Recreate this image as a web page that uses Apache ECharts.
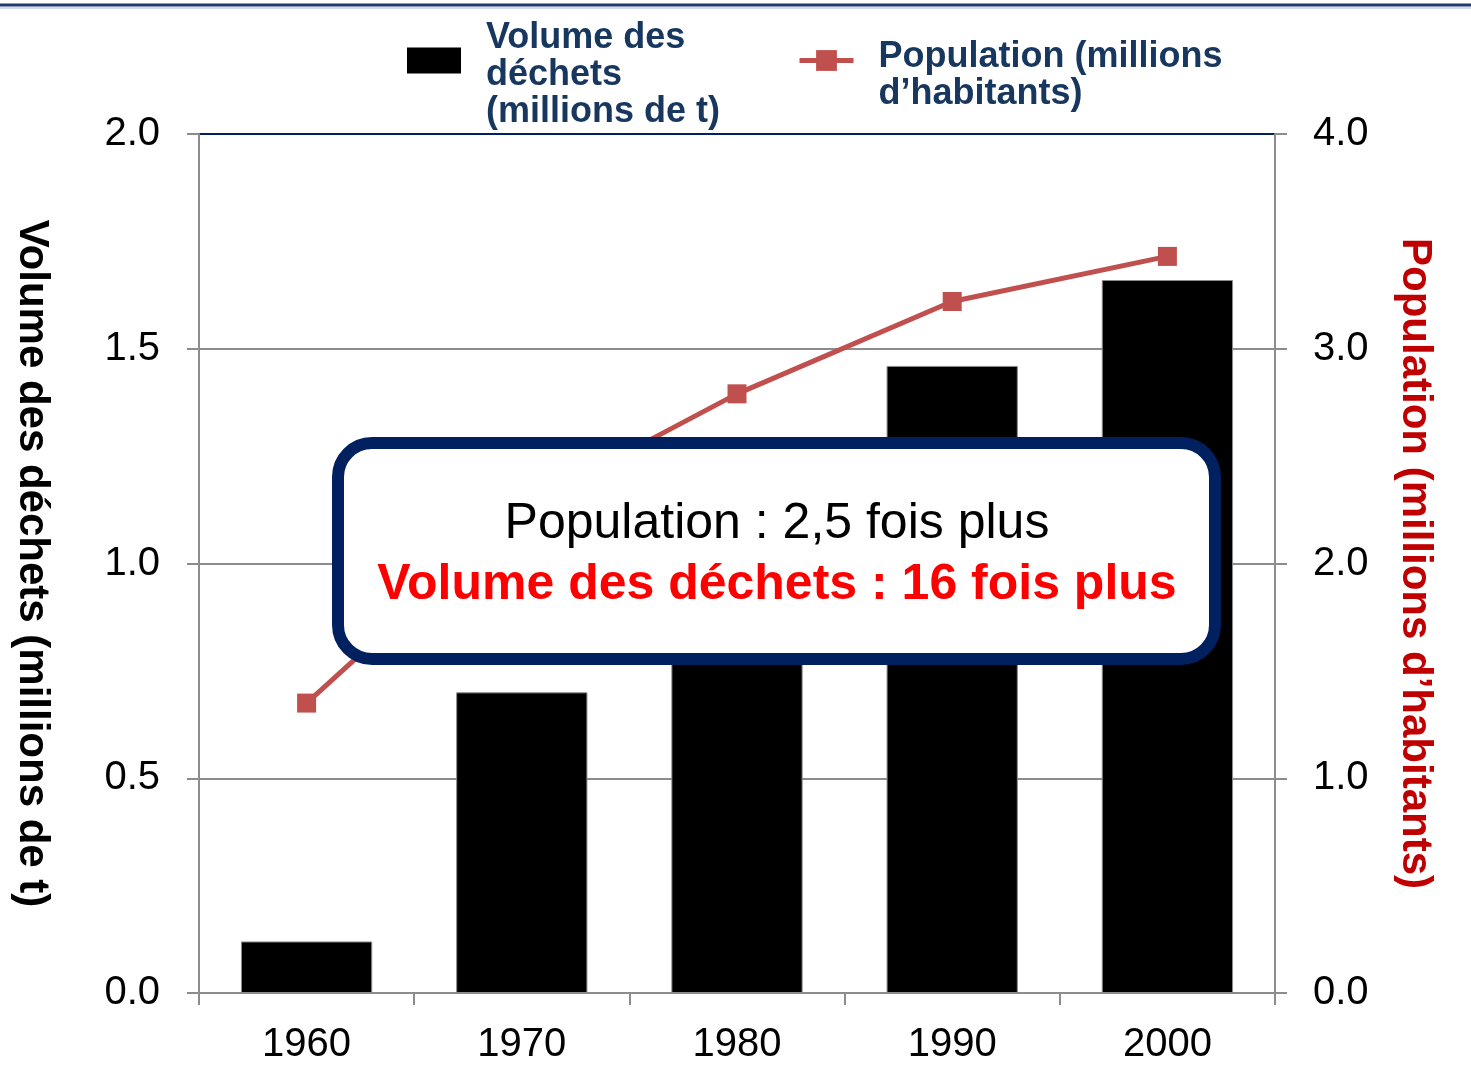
<!DOCTYPE html>
<html>
<head>
<meta charset="utf-8">
<script src="https://cdn.jsdelivr.net/npm/echarts@6/dist/echarts.min.js"></script>
<style>
  html, body { margin: 0; padding: 0; background: #fff; }
  #chart { width: 1471px; height: 1079px; }
</style>
</head>
<body>
<div id="chart"></div>
<script>
  // données
  const years = ['1960', '1970', '1980', '1990', '2000'];
  const dechets = [0.12, 0.70, 1.10, 1.46, 1.66]; // millions de t
  const population = [1.35, 2.26, 2.79, 3.22, 3.43]; // millions d'habitants
  const leftTicks = { min: 0, max: 2, interval: 0.5 };
  const rightTicks = { min: 0, max: 4, interval: 1 };

  const FONT = '"Liberation Sans", Arial, sans-serif';
  const NAVY = '#002060';
  const GRID_GRAY = '#8c8c8c';

  const chart = echarts.init(document.getElementById('chart'));

  const option = {
    backgroundColor: '#fff',
    animation: false,
    textStyle: { fontFamily: FONT },
    grid: { left: 199, right: 196, top: 134, bottom: 86, containLabel: false, outerBoundsMode: 'none' },
    legend: {
      left: 407,
      top: 0,
      padding: 0,
      itemGap: 77,
      itemWidth: 54,
      itemHeight: 26,
      data: [
        { name: 'Volume des déchets', icon: 'rect', itemStyle: { borderWidth: 0 } },
        { name: 'Population', lineStyle: { width: 5 } },
      ],
      formatter: function (name) {
        // une ligne vide en tête pour descendre le texte sous l'icône
        const lines = name === 'Volume des déchets'
          ? ['Volume des', 'déchets', '(millions de t)']
          : ['Population (millions', 'd\u2019habitants)'];
        return '{gap| }\n' + lines.map((l) => '{t|' + l + '}').join('\n');
      },
      textStyle: {
        fontFamily: FONT,
        fontSize: 36,
        fontWeight: 'bold',
        color: '#17375e',
        padding: [0, 0, 0, 20],
        rich: {
          gap: { fontSize: 10, lineHeight: 30 },
          t: { fontFamily: FONT, fontSize: 36, fontWeight: 'bold', color: '#17375e', lineHeight: 37 },
        },
      },
    },
    xAxis: {
      type: 'category',
      data: years,
      axisLine: { lineStyle: { color: GRID_GRAY, width: 2 } },
      axisTick: { show: true, interval: 0, length: 12, lineStyle: { color: GRID_GRAY, width: 2 } },
      axisLabel: { fontSize: 40, color: '#000', margin: 32, fontFamily: FONT },
    },
    yAxis: [
      {
        type: 'value',
        min: leftTicks.min,
        max: leftTicks.max,
        interval: leftTicks.interval,
        name: 'Volume des déchets (millions de t)',
        nameLocation: 'middle',
        nameRotate: -90,
        nameGap: 146,
        nameTextStyle: { fontSize: 42, fontWeight: 'bold', color: '#000', fontFamily: FONT },
        axisLine: { show: true, lineStyle: { color: GRID_GRAY, width: 2 } },
        axisTick: { show: true, length: 12, lineStyle: { color: GRID_GRAY, width: 2 } },
        axisLabel: {
          fontSize: 40, color: '#000', margin: 39, fontFamily: FONT,
          formatter: (v) => v.toFixed(1),
        },
        splitLine: {
          show: true,
          lineStyle: { color: [GRID_GRAY, GRID_GRAY, GRID_GRAY, GRID_GRAY, NAVY], width: 2 },
        },
      },
      {
        type: 'value',
        min: rightTicks.min,
        max: rightTicks.max,
        interval: rightTicks.interval,
        position: 'right',
        name: 'Population (millions d\u2019habitants)',
        nameLocation: 'middle',
        nameRotate: -90,
        nameGap: 119,
        nameTextStyle: { fontSize: 42, fontWeight: 'bold', color: '#c00000', fontFamily: FONT },
        axisLine: { show: true, lineStyle: { color: GRID_GRAY, width: 2 } },
        axisTick: { show: true, length: 12, lineStyle: { color: GRID_GRAY, width: 2 } },
        axisLabel: {
          fontSize: 40, color: '#000', margin: 38, fontFamily: FONT,
          formatter: (v) => v.toFixed(1),
        },
        splitLine: { show: false },
      },
    ],
    series: [
      {
        name: 'Volume des déchets',
        type: 'bar',
        yAxisIndex: 0,
        data: dechets,
        barWidth: '61%',
        itemStyle: { color: '#000', borderColor: GRID_GRAY, borderWidth: 1 },
      },
      {
        name: 'Population',
        type: 'line',
        yAxisIndex: 1,
        data: population,
        symbol: 'rect',
        symbolSize: 19,
        itemStyle: { color: '#c0504d' },
        lineStyle: { color: '#c0504d', width: 5 },
      },
    ],
    graphic: [
      // filet en haut de page
      { type: 'line', z: 100, shape: { x1: 0, y1: 5, x2: 1471, y2: 5 }, style: { stroke: '#1f3a6e', lineWidth: 3 } },
      { type: 'line', z: 100, shape: { x1: 0, y1: 8, x2: 1471, y2: 8 }, style: { stroke: '#c5cee0', lineWidth: 1.5 } },
      // encadré
      {
        type: 'rect', z: 100,
        shape: { x: 338, y: 443, width: 877, height: 216, r: 34 },
        style: { fill: '#fff', stroke: NAVY, lineWidth: 12 },
      },
      {
        type: 'text', z: 101, x: 777, y: 524,
        style: {
          text: 'Population : 2,5 fois plus', fill: '#000',
          font: '50px "Liberation Sans", Arial, sans-serif',
          textAlign: 'center', textVerticalAlign: 'middle',
        },
      },
      {
        type: 'text', z: 101, x: 777, y: 585,
        style: {
          text: 'Volume des déchets : 16 fois plus', fill: '#ff0000',
          font: 'bold 50px "Liberation Sans", Arial, sans-serif',
          textAlign: 'center', textVerticalAlign: 'middle',
        },
      },
    ],
  };

  chart.setOption(option);
</script>
</body>
</html>
